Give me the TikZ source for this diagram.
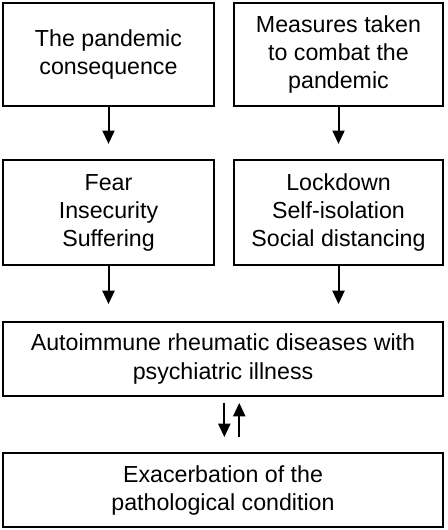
\documentclass[tikz,border=0pt]{standalone}
\usepackage{fontspec}
\setmainfont{Liberation Sans}
\usepackage{tikz}
\usetikzlibrary{positioning,calc,arrows.meta}

\begin{document}
\begin{tikzpicture}[x=0.75pt, y=-0.75pt,
    box/.style={draw, line width=1.4pt, align=center, inner sep=2pt,
      font=\fontsize{17.4}{21}\selectfont},
    flow/.style={line width=1.5pt, -{Triangle[width=9pt, length=10pt]}}]
  \useasboundingbox (0, 0) rectangle (447, 530);

  % Top row
  \node[box, minimum width=158pt, minimum height=77pt] (cause) at (108.5, 54.5) {The pandemic\\consequence};
  \node[box, minimum width=157pt, minimum height=77pt] (measures) at (338.5, 54.5) {Measures taken\\to combat the\\pandemic};

  % Middle row
  \node[box, minimum width=158pt, minimum height=79pt] (fear) at (108.5, 212.5) {Fear\\Insecurity\\Suffering};
  \node[box, minimum width=157pt, minimum height=79pt] (lockdown) at (338.5, 212.5) {Lockdown\\Self-isolation\\Social distancing};

  % Wide boxes
  \node[box, minimum width=330pt, minimum height=55.5pt] (disease) at (223, 359) {Autoimmune rheumatic diseases with\\psychiatric illness};
  \node[box, minimum width=330pt, minimum height=55.5pt] (exacerb) at (223, 490) {Exacerbation of the\\pathological condition};

  % Arrows
  \draw[flow, shorten >=11.25pt] (cause) -- (fear);
  \draw[flow, shorten >=11.25pt] (measures) -- (lockdown);
  \draw[flow, shorten >=12.75pt] (fear.south) -- (fear.south |- disease.north);
  \draw[flow, shorten >=12.75pt] (lockdown.south) -- (lockdown.south |- disease.north);

  % Feedback between disease and exacerbation
  \draw[flow, shorten <=4.5pt, shorten >=11.25pt] ([xshift=1pt]disease.south) -- ([xshift=1pt]disease.south |- exacerb.north);
  \draw[flow, shorten <=11.25pt, shorten >=4.5pt] ([xshift=12.2pt]disease.south |- exacerb.north) -- ([xshift=12.2pt]disease.south);
\end{tikzpicture}
\end{document}
